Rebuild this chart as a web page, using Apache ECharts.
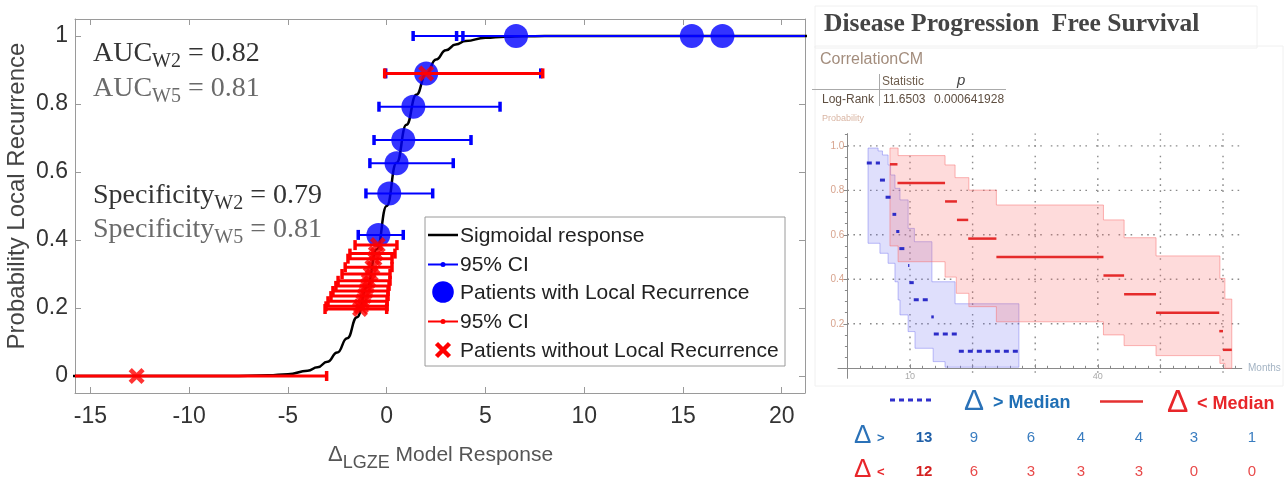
<!DOCTYPE html>
<html><head><meta charset="utf-8">
<script src="https://cdn.jsdelivr.net/npm/echarts@6/dist/echarts.min.js"></script>
<style>html,body{margin:0;padding:0;background:#fff}#c{width:1284px;height:481px}</style>
</head><body><div id="c"></div>
<script>
// ---------- Left panel: sigmoid fit ----------
const xTicks = [-15, -10, -5, 0, 5, 10, 15, 20];
const yTicks = [0, 0.2, 0.4, 0.6, 0.8, 1];
const sigmoidX = [-16, -8, -6, -5, -4, -3.5, -3, -2.5, -2, -1.5, -1, -0.5, 0, 0.5, 1, 1.5, 2, 2.5, 3, 3.5, 4, 5, 6, 7, 8, 22];
const sigmoidY = [0, 0.0002, 0.0019, 0.0054, 0.0153, 0.0254, 0.042, 0.069, 0.111, 0.173, 0.261, 0.373, 0.5, 0.627, 0.739, 0.827, 0.889, 0.931, 0.958, 0.975, 0.985, 0.995, 0.998, 0.9993, 0.9998, 1];
// Patients with local recurrence (blue)
const recurX  = [6.55, 15.45, 17.0, 2.0, 1.35, 0.84, 0.5, 0.13, -0.42];
const recurY  = [1, 1, 1, 0.89, 0.792, 0.694, 0.626, 0.537, 0.415];
const recurLo = [3.86, 3.54, 1.34, -0.05, -0.39, -0.64, -0.85, -1.05, -1.44];
const recurHi = [26, 26, 26, 7.8, 5.74, 4.27, 3.37, 2.33, 0.84];
// Patients without local recurrence (red)
const noRecurX  = [2.0, -12.66, -0.45, -0.55, -0.62, -0.72, -0.81, -0.91, -0.98, -1.05, -1.13, -1.21, -1.30, -1.35];
const noRecurY  = [0.89, 0, 0.385, 0.36, 0.345, 0.32, 0.30, 0.28, 0.265, 0.25, 0.235, 0.22, 0.205, 0.197];
const noRecurLo = [-0.1, -26, -1.6, -1.86, -1.96, -2.1, -2.26, -2.46, -2.57, -2.72, -2.82, -2.97, -3.07, -3.12];
const noRecurHi = [7.9, -3.04, 0.52, 0.42, 0.27, 0.27, 0.17, 0.17, 0.12, 0.07, 0.07, 0.02, 0.02, 0];

// ---------- Right panel: Kaplan-Meier ----------
const kmXTicks = [10, 20, 30, 40, 50, 60];
const kmXLabels = [10, 40];
const kmMinorX = [2, 4, 6, 8, 12, 14, 16, 18, 22, 24, 26, 28, 32, 34, 36, 38, 42, 44, 46, 48, 52, 54, 56, 58, 62];
const kmYTicks = [0.2, 0.4, 0.6, 0.8, 1.0];
const kmMinorY = [0.05, 0.1, 0.15, 0.25, 0.3, 0.35, 0.45, 0.5, 0.55, 0.65, 0.7, 0.75, 0.85, 0.9, 0.95, 1.05];
// Delta > median (blue, dashed)
const blueStart = [3.1, 5.2, 6.1, 7.2, 7.8, 8.3, 9.7, 9.9, 10.6, 13.4, 13.8, 17.8];
const blueEnd   = [5.2, 6.1, 7.2, 7.8, 8.3, 9.7, 9.9, 10.6, 13.4, 13.8, 17.8, 27.4];
const blueSurv  = [0.923, 0.846, 0.769, 0.692, 0.615, 0.538, 0.462, 0.385, 0.308, 0.231, 0.154, 0.077];
const blueUpT = [3.3, 4.9, 5.6, 6.5, 6.9, 7.6, 8.4, 9.7, 10.7, 13.5, 17.2, 27.4];
const blueUpV = [0.99, 0.977, 0.959, 0.914, 0.869, 0.809, 0.757, 0.629, 0.569, 0.389, 0.29, 0.29];
const blueLoT = [3.3, 5.2, 6.5, 7.6, 8.1, 8.4, 9.7, 10.8, 13.7, 15.6, 27.4];
const blueLoV = [0.562, 0.517, 0.472, 0.389, 0.307, 0.24, 0.165, 0.09, 0.03, 0.005, 0.005];
// Delta < median (red, solid)
const redStart = [6.8, 8.0, 15.6, 17.5, 19.3, 23.8, 40.9, 44.2, 49.3, 59.4, 60.0];
const redEnd   = [8.0, 15.6, 17.5, 19.3, 23.8, 40.9, 44.2, 49.3, 59.4, 60.0, 61.4];
const redSurv  = [0.917, 0.833, 0.75, 0.667, 0.583, 0.5, 0.417, 0.333, 0.25, 0.167, 0.083];
const redUpT = [6.8, 8.1, 15.6, 17.2, 19.4, 23.8, 40.9, 44.2, 49.3, 59.5, 60.3, 61.4];
const redUpV = [0.99, 0.956, 0.914, 0.857, 0.801, 0.734, 0.667, 0.587, 0.505, 0.404, 0.311, 0.311];
const redLoT = [6.8, 8.1, 15.6, 17.4, 19.4, 23.8, 40.9, 44.2, 49.3, 59.5, 60.3, 61.4];
const redLoV = [0.55, 0.479, 0.41, 0.337, 0.277, 0.209, 0.15, 0.102, 0.057, 0.022, 0, 0];
// Numbers at risk
const atRiskAbove = [13, 9, 6, 4, 4, 3, 1];
const atRiskBelow = [12, 6, 3, 3, 3, 0, 0];

const SANS = '"Liberation Sans", Arial, Helvetica, sans-serif';
const SERIF = '"Liberation Serif", "Times New Roman", serif';
const chart = echarts.init(document.getElementById('c'));

function errorBars(xs, ys, los, his, color, lw, z) {
  return {
    type: 'custom', xAxisIndex: 0, yAxisIndex: 0, clip: true, z: z, silent: true,
    data: xs.map((x, i) => [x, ys[i], los[i], his[i]]),
    renderItem(params, api) {
      const y = api.value(1);
      const a = api.coord([api.value(2), y]);
      const b = api.coord([api.value(3), y]);
      const h = 5;
      return { type: 'group', children: [
        { type: 'line', shape: { x1: a[0], y1: a[1], x2: b[0], y2: b[1] }, style: { stroke: color, lineWidth: lw } },
        { type: 'line', shape: { x1: a[0], y1: a[1] - h, x2: a[0], y2: a[1] + h }, style: { stroke: color, lineWidth: 3.5 } },
        { type: 'line', shape: { x1: b[0], y1: b[1] - h, x2: b[0], y2: b[1] + h }, style: { stroke: color, lineWidth: 3.5 } }
      ]};
    }
  };
}
function band(upT, upV, loT, loV, fill, stroke, z) {
  return {
    type: 'custom', xAxisIndex: 2, yAxisIndex: 2, silent: true, z: z,
    data: [[upT[0], upV[0]]],
    renderItem(params, api) {
      const pts = [];
      for (let i = 0; i < upT.length - 1; i++) { pts.push(api.coord([upT[i], upV[i]])); pts.push(api.coord([upT[i + 1], upV[i]])); }
      for (let i = loT.length - 2; i >= 0; i--) { pts.push(api.coord([loT[i + 1], loV[i]])); pts.push(api.coord([loT[i], loV[i]])); }
      return { type: 'polygon', shape: { points: pts }, style: { fill: fill, stroke: stroke, lineWidth: 1 } };
    }
  };
}
function segments(starts, ends, vals, color, lw, dash, z) {
  return {
    type: 'custom', xAxisIndex: 2, yAxisIndex: 2, silent: true, z: z,
    data: starts.map((s, i) => [s, vals[i], ends[i]]),
    renderItem(params, api) {
      const a = api.coord([api.value(0), api.value(1)]);
      const b = api.coord([api.value(2), api.value(1)]);
      return { type: 'line', shape: { x1: a[0], y1: a[1], x2: b[0], y2: b[1] }, style: { stroke: color, lineWidth: lw, lineDash: dash } };
    }
  };
}
function kmGrid() {
  const items = kmXTicks.map(v => [0, v]).concat(kmYTicks.map(v => [1, v]));
  return {
    type: 'custom', xAxisIndex: 2, yAxisIndex: 2, silent: true, z: 1,
    data: items,
    renderItem(params, api) {
      const kind = api.value(0), v = api.value(1);
      let a, b;
      if (kind === 0) { a = api.coord([v, -0.02]); b = api.coord([v, 1.055]); }
      else { a = api.coord([0, v]); b = api.coord([63, v]); }
      return { type: 'line', shape: { x1: a[0], y1: a[1], x2: b[0], y2: b[1] }, style: { stroke: '#8a8a8a', lineWidth: 1.4, lineDash: [1.6, 4.4, 1.6, 4.4, 1.6, 9] } };
    }
  };
}

const XMARK = 'path://M0,2 L2,0 L5,3 L8,0 L10,2 L7,5 L10,8 L8,10 L5,7 L2,10 L0,8 L3,5 Z';
const axisGray = { color: '#9a9a9a', width: 1 };
const kmGray = { color: '#8a8a8a', width: 1 };

function txt(x, y, text, font, fill) {
  return { type: 'text', x: x, y: y, z: 110, silent: true,
    style: { text: text, font: font, fill: fill, align: 'left', verticalAlign: 'middle' } };
}
function richTxt(x, y, text, rich) {
  return { type: 'text', x: x, y: y, z: 110, silent: true, style: { text: text, rich: rich, align: 'left', verticalAlign: 'top' } };
}
function annoRich(color) {
  return {
    a: { fontSize: 28, fontFamily: SERIF, lineHeight: 36, fill: color },
    s: { fontSize: 20, fontFamily: SERIF, lineHeight: 20, verticalAlign: 'bottom', fill: color }
  };
}

const graphics = [];
// Left annotations
graphics.push(richTxt(93, 35.6, '{a|AUC}{s|W2}{a| = 0.82}', annoRich('#333')));
graphics.push(richTxt(93, 70.6, '{a|AUC}{s|W5}{a| = 0.81}', annoRich('#6a6a6a')));
graphics.push(richTxt(93, 177.6, '{a|Specificity}{s|W2}{a| = 0.79}', annoRich('#333')));
graphics.push(richTxt(93, 211.6, '{a|Specificity}{s|W5}{a| = 0.81}', annoRich('#6a6a6a')));
// Axis titles
graphics.push({ type: 'text', x: 17, y: 196, rotation: Math.PI / 2, z: 110, silent: true,
  style: { text: 'Probability Local Recurrence', font: '24px ' + SANS, fill: '#444', align: 'center', verticalAlign: 'middle' } });
graphics.push(richTxt(328, 438.3, '{d|Δ}{s|LGZE}{m| Model Response}', {
  d: { fontSize: 22, fontFamily: SANS, lineHeight: 34, fill: '#555' },
  s: { fontSize: 18, fontFamily: SANS, lineHeight: 18, verticalAlign: 'bottom', fill: '#555' },
  m: { fontSize: 21, fontFamily: SANS, lineHeight: 34, fill: '#555' }
}));
// Legend box
graphics.push({ type: 'rect', z: 100, silent: true, shape: { x: 425, y: 217, width: 360, height: 149 }, style: { fill: '#fff', stroke: '#9a9a9a', lineWidth: 1 } });
const legRows = [235, 264.5, 292, 321.5, 350];
const legTexts = ['Sigmoidal response', '95% CI', 'Patients with Local Recurrence', '95% CI', 'Patients without Local Recurrence'];
graphics.push({ type: 'line', z: 105, silent: true, shape: { x1: 428, y1: legRows[0], x2: 458, y2: legRows[0] }, style: { stroke: '#000', lineWidth: 2.5 } });
graphics.push({ type: 'line', z: 105, silent: true, shape: { x1: 428, y1: legRows[1], x2: 458, y2: legRows[1] }, style: { stroke: '#0000ff', lineWidth: 2 } });
graphics.push({ type: 'circle', z: 106, silent: true, shape: { cx: 443, cy: legRows[1], r: 2.5 }, style: { fill: '#0000ff' } });
graphics.push({ type: 'circle', z: 106, silent: true, shape: { cx: 443, cy: legRows[2], r: 10.8 }, style: { fill: '#0000ff' } });
graphics.push({ type: 'line', z: 105, silent: true, shape: { x1: 428, y1: legRows[3], x2: 458, y2: legRows[3] }, style: { stroke: '#ff0000', lineWidth: 2 } });
graphics.push({ type: 'circle', z: 106, silent: true, shape: { cx: 443, cy: legRows[3], r: 2.5 }, style: { fill: '#ff0000' } });
graphics.push({ type: 'line', z: 106, silent: true, shape: { x1: 436.5, y1: legRows[4] - 6.5, x2: 449.5, y2: legRows[4] + 6.5 }, style: { stroke: '#ff0000', lineWidth: 4.5 } });
graphics.push({ type: 'line', z: 106, silent: true, shape: { x1: 436.5, y1: legRows[4] + 6.5, x2: 449.5, y2: legRows[4] - 6.5 }, style: { stroke: '#ff0000', lineWidth: 4.5 } });
legTexts.forEach((t, i) => graphics.push(txt(460, legRows[i] + 1, t, '21px ' + SANS, '#222')));

// Right panel texts
graphics.push({ type: 'rect', z: 0, silent: true, shape: { x: 815, y: 6, width: 442, height: 42 }, style: { fill: 'none', stroke: '#f0f0f0', lineWidth: 1 } });
graphics.push({ type: 'rect', z: 0, silent: true, shape: { x: 815, y: 46, width: 468, height: 340 }, style: { fill: 'none', stroke: '#f0f0f0', lineWidth: 1 } });
graphics.push(txt(824, 24.5, 'Disease Progression  Free Survival', 'bold 25.5px ' + SERIF, '#444'));
graphics.push(txt(820, 59.5, 'CorrelationCM', '16px ' + SANS, '#a38d7d'));
graphics.push(txt(882, 81.5, 'Statistic', '12px ' + SANS, '#6d5c4c'));
graphics.push(txt(957, 81, 'p', 'italic 15px ' + SANS, '#444'));
graphics.push({ type: 'line', z: 105, silent: true, shape: { x1: 879.5, y1: 74, x2: 879.5, y2: 106 }, style: { stroke: '#aaa', lineWidth: 1 } });
graphics.push({ type: 'line', z: 105, silent: true, shape: { x1: 812, y1: 89.5, x2: 1006, y2: 89.5 }, style: { stroke: '#aaa', lineWidth: 1 } });
graphics.push(txt(822, 100, 'Log-Rank', '12px ' + SANS, '#5e4e40'));
graphics.push(txt(883, 100, '11.6503', '12px ' + SANS, '#5e4e40'));
graphics.push(txt(934, 100, '0.000641928', '12px ' + SANS, '#5e4e40'));
graphics.push(txt(822, 119, 'Probability', '9px ' + SANS, '#d9b5a3'));
graphics.push(txt(1248, 368.5, 'Months', '10px ' + SANS, '#a3b3c3'));

// KM legend row
graphics.push({ type: 'line', z: 105, silent: true, shape: { x1: 890, y1: 400, x2: 934, y2: 400 }, style: { stroke: '#3030cc', lineWidth: 3, lineDash: [5, 4] } });
graphics.push(txt(964, 402, 'Δ', '30px ' + SANS, '#2b72b8'));
graphics.push(txt(993, 403, '> Median', 'bold 18px ' + SANS, '#1f6fb5'));
graphics.push({ type: 'line', z: 105, silent: true, shape: { x1: 1100, y1: 401.5, x2: 1143, y2: 401.5 }, style: { stroke: '#e53030', lineWidth: 2.5 } });
graphics.push(txt(1167, 403, 'Δ', '32px ' + SANS, '#e8262a'));
graphics.push(txt(1197, 404, '< Median', 'bold 18px ' + SANS, '#e8262a'));
// Numbers at risk
const riskCols = [924, 974, 1031, 1081, 1139, 1194, 1252];
graphics.push(txt(854, 436, 'Δ', '26px ' + SANS, '#2b72b8'));
graphics.push(txt(877, 438, '>', 'bold 13px ' + SANS, '#2b72b8'));
graphics.push(txt(854, 470, 'Δ', '26px ' + SANS, '#e8262a'));
graphics.push(txt(877, 472, '<', 'bold 13px ' + SANS, '#e8262a'));
atRiskAbove.forEach((v, i) => graphics.push({ type: 'text', x: riskCols[i], y: 438, z: 110, silent: true,
  style: { text: String(v), font: (i === 0 ? 'bold ' : '') + '15px ' + SANS, fill: i === 0 ? '#1f5fa8' : '#3a7dc0', align: 'center', verticalAlign: 'middle' } }));
atRiskBelow.forEach((v, i) => graphics.push({ type: 'text', x: riskCols[i], y: 472, z: 110, silent: true,
  style: { text: String(v), font: (i === 0 ? 'bold ' : '') + '15px ' + SANS, fill: i === 0 ? '#d42020' : '#e84a4a', align: 'center', verticalAlign: 'middle' } }));

const option = {
  animation: false,
  backgroundColor: '#fff',
  grid: [
    { left: 75, right: 479, top: 19, bottom: 88, outerBoundsMode: 'none' },
    { left: 838, right: 42.2, top: 133.6, bottom: 102.7, outerBoundsMode: 'none' }
  ],
  xAxis: [
    { gridIndex: 0, type: 'value', min: -15.78, max: 21.18, position: 'bottom',
      axisLine: { show: true, onZero: false, lineStyle: axisGray },
      axisTick: { show: true, inside: true, length: 6, customValues: xTicks, lineStyle: axisGray },
      axisLabel: { customValues: xTicks, fontSize: 23, fontFamily: SANS, color: '#333', margin: 12 },
      splitLine: { show: false } },
    { gridIndex: 0, type: 'value', min: -15.78, max: 21.18, position: 'top',
      axisLine: { show: true, onZero: false, lineStyle: axisGray },
      axisTick: { show: true, inside: true, length: 6, customValues: xTicks, lineStyle: axisGray },
      axisLabel: { show: false }, splitLine: { show: false } },
    { gridIndex: 1, type: 'value', min: -1.5, max: 63, position: 'bottom', offset: -10,
      axisLine: { show: true, onZero: false, lineStyle: kmGray },
      axisTick: { show: true, inside: true, length: 4, customValues: kmXTicks, lineStyle: kmGray },
      axisLabel: { customValues: kmXLabels, fontSize: 9, fontFamily: SANS, color: '#aaa', margin: 4 },
      splitLine: { show: false } },
    { gridIndex: 1, type: 'value', min: -1.5, max: 63, position: 'bottom', offset: -10,
      axisLine: { show: false, onZero: false },
      axisTick: { show: true, inside: true, length: 2.5, customValues: kmMinorX, lineStyle: kmGray },
      axisLabel: { show: false }, splitLine: { show: false } }
  ],
  yAxis: [
    { gridIndex: 0, type: 'value', min: -0.05, max: 1.05, position: 'left',
      axisLine: { show: true, onZero: false, lineStyle: axisGray },
      axisTick: { show: true, inside: true, length: 6, customValues: yTicks, lineStyle: axisGray },
      axisLabel: { customValues: yTicks, fontSize: 23, fontFamily: SANS, color: '#333', margin: 7 },
      splitLine: { show: false } },
    { gridIndex: 0, type: 'value', min: -0.05, max: 1.05, position: 'right',
      axisLine: { show: true, onZero: false, lineStyle: axisGray },
      axisTick: { show: true, inside: true, length: 6, customValues: yTicks, lineStyle: axisGray },
      axisLabel: { show: false }, splitLine: { show: false } },
    { gridIndex: 1, type: 'value', min: -0.045, max: 1.055, position: 'left', offset: -9.4,
      axisLine: { show: true, onZero: false, lineStyle: kmGray },
      axisTick: { show: true, length: 4, customValues: kmYTicks, lineStyle: kmGray },
      axisLabel: { customValues: kmYTicks, formatter: v => v.toFixed(1), fontSize: 10, fontFamily: SANS, color: '#d7a38d', margin: 3 },
      splitLine: { show: false } },
    { gridIndex: 1, type: 'value', min: -0.045, max: 1.055, position: 'left', offset: -9.4,
      axisLine: { show: false, onZero: false },
      axisTick: { show: true, length: 2.5, customValues: kmMinorY, lineStyle: kmGray },
      axisLabel: { show: false }, splitLine: { show: false } }
  ],
  series: [
    { type: 'line', xAxisIndex: 0, yAxisIndex: 0, z: 2, silent: true,
      data: sigmoidX.map((x, i) => [x, sigmoidY[i]]), smooth: true, smoothMonotone: 'x',
      showSymbol: false, lineStyle: { color: '#000', width: 2.5 } },
    errorBars(recurX, recurY, recurLo, recurHi, '#0000ff', 2, 3),
    { type: 'scatter', xAxisIndex: 0, yAxisIndex: 0, z: 4, silent: true,
      data: recurX.map((x, i) => [x, recurY[i]]), symbol: 'circle', symbolSize: 24,
      itemStyle: { color: '#0000ff' } },
    errorBars(noRecurX, noRecurY, noRecurLo, noRecurHi, '#ff0000', 3, 5),
    { type: 'scatter', xAxisIndex: 0, yAxisIndex: 0, z: 6, silent: true,
      data: noRecurX.map((x, i) => [x, noRecurY[i]]), symbol: XMARK, symbolSize: 16,
      itemStyle: { color: '#ff0000' } },
    kmGrid(),
    band(blueUpT, blueUpV, blueLoT, blueLoV, 'rgba(110,110,240,0.22)', 'rgba(110,110,240,0.45)', 2),
    band(redUpT, redUpV, redLoT, redLoV, 'rgba(250,110,110,0.25)', 'rgba(250,110,110,0.5)', 3),
    segments(blueStart, blueEnd, blueSurv, '#2c2cc8', 3, [5, 4], 4),
    segments(redStart, redEnd, redSurv, '#e52b2b', 2.5, null, 5)
  ],
  graphic: graphics
};
chart.setOption(option);
</script>
</body></html>
